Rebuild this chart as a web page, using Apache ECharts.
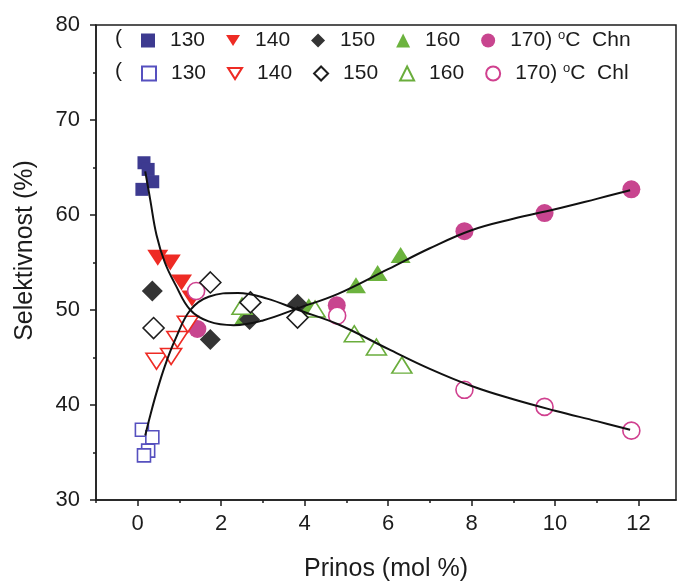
<!DOCTYPE html>
<html>
<head>
<meta charset="utf-8">
<script src="https://cdn.jsdelivr.net/npm/echarts@6/dist/echarts.min.js"></script>
<style>
  html, body { margin: 0; padding: 0; background: #fff; }
  #chart { width: 678px; height: 588px; }
</style>
</head>
<body>
<div id="chart"></div>
<script>
// Selectivity vs. yield, measured points [yield mol %, selectivity %]
const chn130 = [[0.15, 65.5], [0.25, 64.8], [0.36, 63.5], [0.1, 62.7]];
const chl130 = [[0.1, 37.4], [0.35, 36.6], [0.25, 35.2], [0.15, 34.7]];
const chn140 = [[0.48, 55.5], [0.78, 55.0], [1.05, 52.9], [1.3, 51.2]];
const chl140 = [[0.45, 44.6], [0.8, 45.1], [0.95, 46.9], [1.2, 48.5]];
const chn150 = [[0.35, 52.0], [1.74, 46.9], [2.68, 49.0], [3.83, 50.6]];
const chl150 = [[0.38, 48.1], [1.74, 52.9], [2.7, 50.8], [3.83, 49.2]];
const chn160 = [[2.55, 49.3], [4.1, 50.4], [5.23, 52.6], [5.75, 53.9], [6.3, 55.8]];
const chl160 = [[2.5, 50.4], [4.25, 50.1], [5.19, 47.5], [5.72, 46.1], [6.33, 44.2]];
const chn170 = [[1.43, 48.0], [4.77, 50.5], [7.83, 58.3], [9.75, 60.2], [11.83, 62.7]];
const chl170 = [[1.4, 52.0], [4.78, 49.4], [7.83, 41.6], [9.75, 39.8], [11.83, 37.3]];

// Fitted trend curves
const fitChn = [[0.18, 64.6], [0.3, 61.6], [0.45, 57.9], [0.65, 55.0], [0.9, 52.7],
  [1.26, 50.0], [1.7, 48.8], [2.3, 48.4], [3.0, 48.9], [3.85, 50.2], [4.8, 51.7],
  [6.0, 54.3], [7.0, 56.5], [8.0, 58.4], [9.0, 59.6], [10.0, 60.6], [11.0, 61.7], [11.8, 62.6]];
const fitChl = [[0.18, 36.8], [0.3, 38.9], [0.45, 41.3], [0.65, 44.1], [0.9, 46.9],
  [1.26, 50.0], [1.7, 51.4], [2.4, 51.8], [3.1, 51.2], [3.85, 50.0], [4.8, 48.5],
  [6.0, 45.9], [7.0, 43.8], [8.0, 42.0], [9.0, 40.6], [10.0, 39.4], [11.0, 38.3], [11.8, 37.4]];

// Axis ticks
const xTickLabels = [0, 2, 4, 6, 8, 10, 12];
const xMinorTicks = [-1, 1, 3, 5, 7, 9, 11];
const yTickLabels = [30, 40, 50, 60, 70, 80];

const FONT = 'Liberation Sans, Arial, sans-serif';
const INK = '#1c1c1c';
const DOWN_TRIANGLE = 'path://M0,0L20,0L10,16Z';

function filled(name, data, symbol, size, color, rotate) {
  return {
    name, type: 'scatter', data, symbol, symbolSize: size, symbolRotate: rotate || 0,
    itemStyle: { color, opacity: 1 }, z: 2
  };
}
function open(name, data, symbol, size, color, rotate) {
  return {
    name, type: 'scatter', data, symbol, symbolSize: size, symbolRotate: rotate || 0,
    itemStyle: { color: '#ffffff', borderColor: color, borderWidth: 1.6, opacity: 1 }, z: 3
  };
}
function fitLine(name, data) {
  return {
    name, type: 'line', data, smooth: 0.4, showSymbol: false, symbol: 'none',
    lineStyle: { color: '#111', width: 2 }, z: 5, silent: true
  };
}

const legendBase = {
  left: 141, orient: 'horizontal', itemWidth: 14, itemHeight: 14, itemGap: 21,
  padding: 0, selectedMode: false,
  textStyle: {
    fontFamily: FONT, fontSize: 21, color: INK, padding: [0, 0, 0, 10],
    rich: { sup: { fontFamily: FONT, fontSize: 13, color: INK, padding: [0, 0, 10, 0] } }
  },
  formatter: function (name) {
    const parts = name.split(' ');
    return parts[1] === '170' ? '170) {sup|o}C  ' + parts[0] : parts[1];
  }
};
function legendItems(group) {
  return ['130', '140', '150', '160', '170'].map(t =>
    t === '140' ? { name: group + ' ' + t, icon: DOWN_TRIANGLE } : { name: group + ' ' + t });
}

const chart = echarts.init(document.getElementById('chart'), null, { renderer: 'canvas' });
chart.setOption({
  backgroundColor: '#ffffff',
  animation: false,
  grid: {
    left: 96, right: 2, top: 25, bottom: 88, show: true,
    borderColor: INK, borderWidth: 1.5, backgroundColor: '#ffffff'
  },
  legend: [
    Object.assign({}, legendBase, { top: 29, data: legendItems('Chn') }),
    Object.assign({}, legendBase, { top: 62, data: legendItems('Chl') })
  ],
  graphic: [
    { type: 'text', left: 115, top: 28, style: { text: '(', font: '21px ' + FONT, fill: INK } },
    { type: 'text', left: 115, top: 61, style: { text: '(', font: '21px ' + FONT, fill: INK } }
  ],
  xAxis: [{
    type: 'value', min: -1, max: 12.9, interval: 1,
    name: 'Prinos (mol %)', nameLocation: 'middle', nameGap: 57,
    nameTextStyle: { fontFamily: FONT, fontSize: 25, color: INK },
    axisLine: { show: true, onZero: false, lineStyle: { color: INK, width: 1.5 } },
    axisTick: { show: true, customValues: xTickLabels, length: 6, inside: false, lineStyle: { color: INK, width: 1.5 } },
    axisLabel: { customValues: xTickLabels, fontFamily: FONT, fontSize: 22, color: INK, margin: 13 },
    splitLine: { show: false }
  }, {
    type: 'value', min: -1, max: 12.9, interval: 1, position: 'bottom',
    axisLine: { show: false },
    axisTick: { show: true, customValues: xMinorTicks, length: 3, inside: false, lineStyle: { color: INK, width: 1.5 } },
    axisLabel: { show: false },
    splitLine: { show: false }
  }],
  yAxis: {
    type: 'value', min: 30, max: 80, interval: 10,
    name: 'Selektivnost (%)', nameLocation: 'middle', nameGap: 58,
    nameTextStyle: { fontFamily: FONT, fontSize: 25, color: INK, padding: [0, 0, 0, 24] },
    axisLine: { show: true, onZero: false, lineStyle: { color: INK, width: 1.5 } },
    axisTick: { show: true, length: 6, inside: false, lineStyle: { color: INK, width: 1.5 } },
    minorTick: { show: true, splitNumber: 2, length: 3, lineStyle: { color: INK, width: 1.5 } },
    axisLabel: { fontFamily: FONT, fontSize: 22, color: INK, margin: 16,
      formatter: v => (yTickLabels.indexOf(v) >= 0 ? String(v) : '') },
    splitLine: { show: false }
  },
  series: [
    open('Chl 160', chl160, 'triangle', [20, 16], '#6aad3c'),
    filled('Chn 160', chn160, 'triangle', [20, 16], '#6cb33e'),
    filled('Chn 130', chn130, 'rect', 13, '#3d3a90'),
    open('Chl 130', chl130, 'rect', 13, '#5650bf'),
    filled('Chn 170', chn170, 'circle', 18, '#c8458f'),
    open('Chl 170', chl170, 'circle', 17, '#d0408f'),
    filled('Chn 140', chn140, 'triangle', [21, 16], '#ee2b24', 180),
    open('Chl 140', chl140, 'triangle', [21, 16], '#ee2b24', 180),
    filled('Chn 150', chn150, 'diamond', 21, '#343434'),
    open('Chl 150', chl150, 'diamond', 21, '#1e1e1e'),
    fitLine('fit Chn', fitChn),
    fitLine('fit Chl', fitChl)
  ]
});
</script>
</body>
</html>
